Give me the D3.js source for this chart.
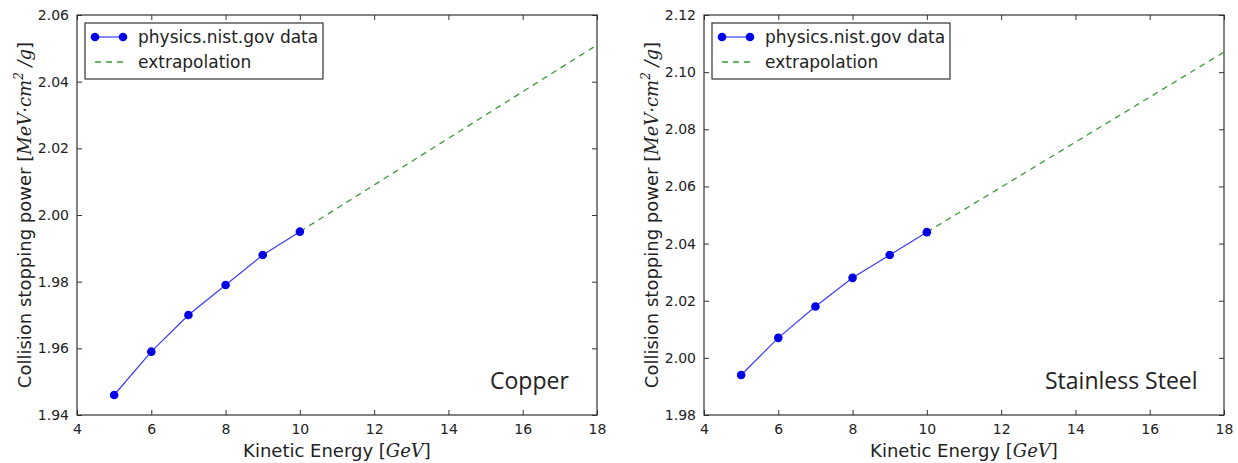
<!DOCTYPE html>
<html>
<head>
<meta charset="utf-8">
<script src="https://cdn.jsdelivr.net/npm/d3@7"></script>
<style>
  body { margin: 0; background: #fff; }
  svg text { font-family: "DejaVu Sans", sans-serif; fill: #222; }
  .tick text { font-size: 14px; }
</style>
</head>
<body>
<div id="canvas"></div>
<script>
// measured energies (GeV)
const energy = [5, 6, 7, 8, 9, 10];
const copperPower = [1.946, 1.959, 1.970, 1.979, 1.988, 1.995];
const steelPower = [1.994, 2.007, 2.018, 2.028, 2.036, 2.044];
// extrapolation end points
const extraEnergy = [10, 18];
const copperExtra = [1.995, 2.051];
const steelExtra = [2.044, 2.107];

const xTicks = [4, 6, 8, 10, 12, 14, 16, 18];
const copperYTicks = [1.94, 1.96, 1.98, 2.00, 2.02, 2.04, 2.06];
const steelYTicks = [1.98, 2.00, 2.02, 2.04, 2.06, 2.08, 2.10, 2.12];
const legendLabels = ["physics.nist.gov data", "extrapolation"];

const W = 1238, H = 463;
const svg = d3.select("#canvas").append("svg")
  .attr("width", W).attr("height", H);

function panel(cfg) {
  const width = 520, height = 400;
  const g = svg.append("g")
    .attr("transform", "translate(" + cfg.left + "," + 15 + ")");

  const x = d3.scaleLinear().domain([4, 18]).range([0, width]);
  const y = d3.scaleLinear().domain(cfg.yDomain).range([height, 0]);

  // axes, ticks pointing inward on all sides
  const fmt = d3.format(".2f");
  g.append("g").attr("transform", "translate(0," + height + ")")
    .call(d3.axisBottom(x).tickValues(xTicks).tickSize(-5).tickPadding(9).tickFormat(d3.format("d")));
  g.append("g")
    .call(d3.axisTop(x).tickValues(xTicks).tickSize(-5).tickFormat(""));
  g.append("g")
    .call(d3.axisLeft(y).tickValues(cfg.yTicks).tickSize(-5).tickPadding(8).tickFormat(fmt));
  g.append("g").attr("transform", "translate(" + width + ",0)")
    .call(d3.axisRight(y).tickValues(cfg.yTicks).tickSize(-5).tickFormat(""));
  g.selectAll(".domain").remove();
  g.selectAll(".tick line").attr("stroke", "#333");

  g.append("rect")
    .attr("width", width).attr("height", height)
    .attr("fill", "none").attr("stroke", "#333").attr("stroke-width", 1.2);

  // extrapolation line
  const line = d3.line().x(d => x(d[0])).y(d => y(d[1]));
  g.append("path")
    .datum(d3.zip(extraEnergy, cfg.extra))
    .attr("d", line)
    .attr("fill", "none").attr("stroke", "#3a9a3a")
    .attr("stroke-width", 1.3).attr("stroke-dasharray", "6,5");

  // data line
  const pts = d3.zip(energy, cfg.values);
  g.append("path").datum(pts).attr("d", line)
    .attr("fill", "none").attr("stroke", "#3a3aff").attr("stroke-width", 1.2);
  g.selectAll(".point").data(pts).enter().append("circle")
    .attr("class", "point")
    .attr("cx", d => x(d[0])).attr("cy", d => y(d[1]))
    .attr("r", 4.3).attr("fill", "#0000e6");

  // legend
  const lg = g.append("g").attr("transform", "translate(8,8)");
  lg.append("rect").attr("width", 238).attr("height", 56)
    .attr("fill", "#fff").attr("stroke", "#333").attr("stroke-width", 1.2);
  lg.append("line").attr("x1", 10).attr("x2", 38).attr("y1", 14).attr("y2", 14)
    .attr("stroke", "#3a3aff").attr("stroke-width", 1.2);
  lg.selectAll(".lpt").data([10, 38]).enter().append("circle")
    .attr("cx", d => d).attr("cy", 14).attr("r", 4.3).attr("fill", "#0000e6");
  lg.append("line").attr("x1", 10).attr("x2", 38).attr("y1", 39).attr("y2", 39)
    .attr("stroke", "#3a9a3a").attr("stroke-width", 1.3).attr("stroke-dasharray", "6,5");
  lg.selectAll(".ltxt").data(legendLabels).enter().append("text")
    .attr("x", 53).attr("y", (d, i) => 14 + i * 25).attr("dy", "0.35em")
    .style("font-size", "17px").text(d => d);

  // material name
  g.append("text")
    .attr("x", cfg.nameX).attr("y", 374)
    .style("font-size", "23px").style("font-family", "'Open Sans', sans-serif")
    .text(cfg.name);

  // axis titles
  const xl = g.append("text")
    .attr("x", width / 2).attr("y", 442)
    .attr("text-anchor", "middle").style("font-size", "18px");
  xl.append("tspan").text("Kinetic Energy [");
  xl.append("tspan").style("font-family", "'DejaVu Serif', serif").style("font-style", "italic").text("GeV");
  xl.append("tspan").text("]");

  const yl = g.append("text")
    .attr("transform", "translate(" + (-46) + "," + (height / 2) + ") rotate(-90)")
    .attr("text-anchor", "middle").style("font-size", "18px");
  yl.append("tspan").text("Collision stopping power [");
  const serif = "'DejaVu Serif', serif";
  yl.append("tspan").style("font-family", serif).style("font-style", "italic").text("MeV·cm");
  yl.append("tspan").style("font-family", serif).style("font-style", "italic")
    .style("font-size", "12px").attr("dy", "-8").text("2");
  yl.append("tspan").style("font-family", serif).style("font-style", "italic")
    .attr("dy", "8").text(" /g");
  yl.append("tspan").text("]");
}

panel({ left: 77, yDomain: [1.94, 2.06], yTicks: copperYTicks,
  values: copperPower, extra: copperExtra, name: "Copper", nameX: 413 });
panel({ left: 704, yDomain: [1.98, 2.12], yTicks: steelYTicks,
  values: steelPower, extra: steelExtra, name: "Stainless Steel", nameX: 341 });
</script>
</body>
</html>
